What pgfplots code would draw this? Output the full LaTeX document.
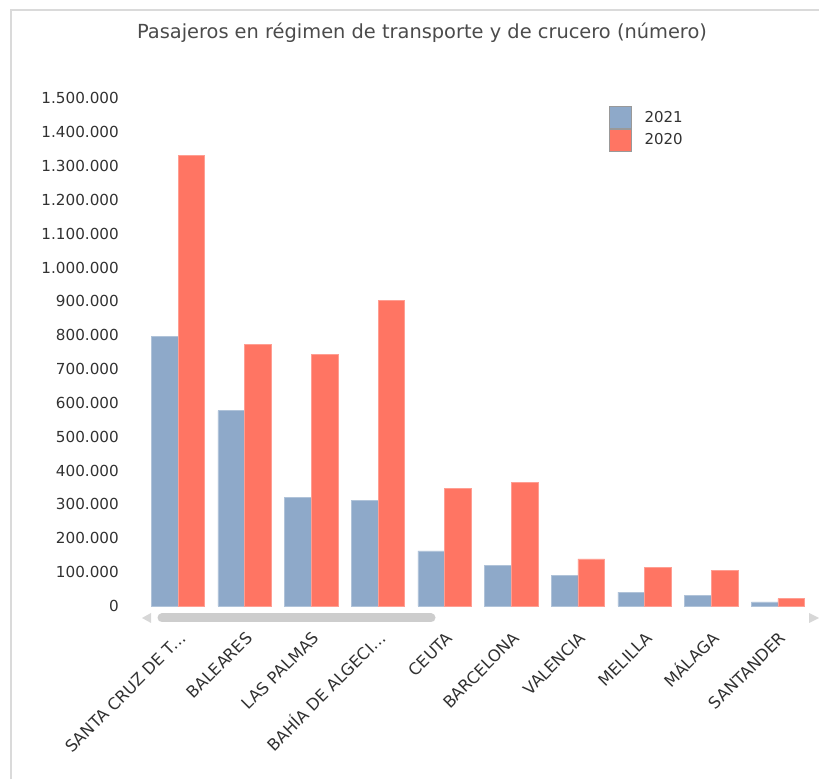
\documentclass[border=0pt]{standalone}
\usepackage{pgfplots}
\pgfplotsset{compat=1.18}
\usepackage{fontspec}
\setmainfont{DejaVu Sans}
\definecolor{b21}{RGB}{142,169,201}
\definecolor{r20}{RGB}{255,117,99}
\definecolor{txt}{RGB}{50,50,50}
\definecolor{ttl}{RGB}{75,75,75}
\definecolor{framec}{RGB}{218,218,218}
\definecolor{scrollc}{RGB}{205,205,205}
\newcommand{\elip}{.\kern0.3pt.\kern0.3pt.}
\begin{document}
\begin{tikzpicture}[x=1pt,y=1pt]
\path[use as bounding box] (0,0) rectangle (819,779);
\draw[framec, line width=2pt] (11,0) -- (11,769) -- (819,769);
\node[text=ttl, font=\fontsize{19.4}{22}\selectfont] at (422,746) {Pasajeros en régimen de transporte y de crucero (número)};
% scrollbar
\draw[scrollc, line width=9pt, line cap=round] (162,161) -- (431,161);
\fill[scrollc!80!white] (142,161) -- (151,166) -- (151,156) -- cycle;
\fill[scrollc!80!white] (819,161) -- (809,166) -- (809,156) -- cycle;
\begin{axis}[
  at={(144.7pt,173pt)}, anchor=south west,
  scale only axis, width=666.6pt, height=507.7pt,
  xmin=-0.5, xmax=9.5, ymin=0, ymax=1500000,
  axis line style={draw=none},
  tick style={draw=none},
  ybar=0pt, bar width=26.7pt,
  xtick={0,1,2,3,4,5,6,7,8,9},
  xticklabels={{SANTA CRUZ DE T\elip},{BALEARES},{LAS PALMAS},{BAHÍA DE ALGECI\elip},{CEUTA},{BARCELONA},{VALENCIA},{MELILLA},{MÁLAGA},{SANTANDER}},
  ytick={0,100000,200000,300000,400000,500000,600000,700000,800000,900000,1000000,1100000,1200000,1300000,1400000,1500000},
  scaled y ticks=false,
  /pgf/number format/assume math mode=true,
  yticklabel={\pgfmathprintnumber[fixed,1000 sep={.},assume math mode=true]{\tick}},
  ticklabel style={text=txt},
  yticklabel style={font=\fontsize{15.2}{17}\selectfont, anchor=east, inner sep=0pt, xshift=-25.7pt},
  xticklabel style={font=\fontsize{16.3}{18}\selectfont, anchor=base east, inner sep=0pt, xshift=9pt, yshift=-29pt, rotate=45},
  legend style={at={(0.697,0.985)}, anchor=north west, draw=none, fill=none,
    font=\fontsize{15}{17}\selectfont, text=txt,
    row sep=0pt, inner sep=0pt, outer sep=0pt,
    nodes={inner sep=0pt}},
  legend cell align=left,
  /tikz/every odd column/.append style={column sep=12.7pt},
  legend image code/.code={\draw[#1, draw=gray!80] (0pt,-11pt) rectangle (22pt,11pt);},
]
\addplot[fill=b21, draw=b21!70!white, line width=0.6pt] coordinates {
 (0,797000) (1,577000) (2,322000) (3,313000) (4,163000)
 (5,120000) (6,91000) (7,41000) (8,31000) (9,12000)};
\addlegendentry{2021}
\addplot[fill=r20, draw=r20!70!white, line width=0.6pt] coordinates {
 (0,1332000) (1,772000) (2,743000) (3,904000) (4,348000)
 (5,364000) (6,139000) (7,114000) (8,104000) (9,22000)};
\addlegendentry{2020}
\end{axis}
\end{tikzpicture}
\end{document}
